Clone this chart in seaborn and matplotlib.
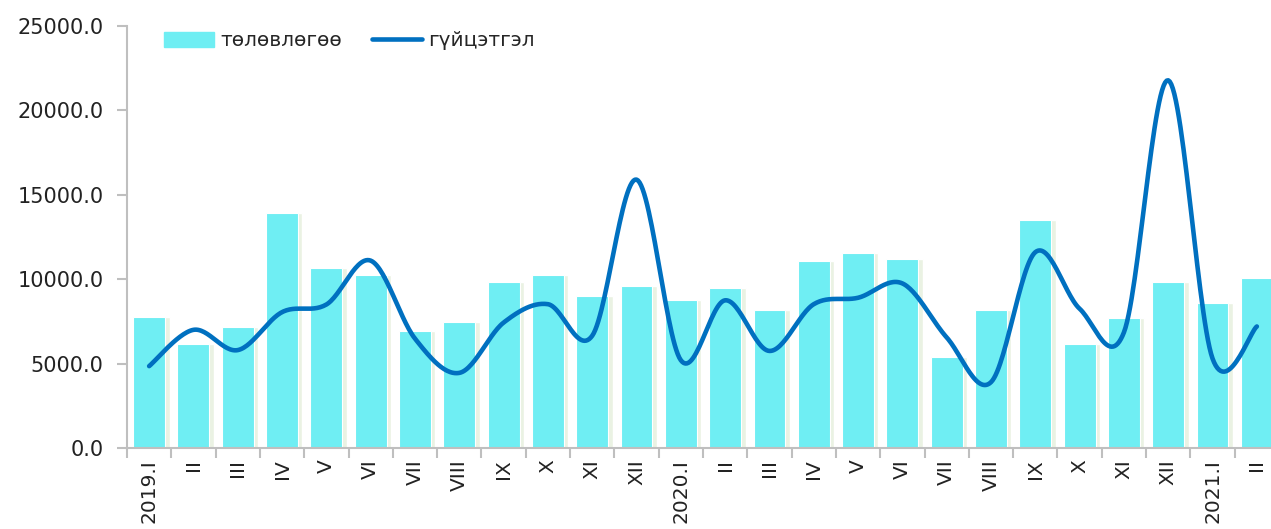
import numpy as np
import pandas as pd
import seaborn as sns
import matplotlib
matplotlib.use("Agg")
import matplotlib.pyplot as plt
from matplotlib.patches import Patch
from matplotlib.lines import Line2D

# data
months = ["2019.I", "II", "III", "IV", "V", "VI", "VII", "VIII", "IX", "X", "XI", "XII",
          "2020.I", "II", "III", "IV", "V", "VI", "VII", "VIII", "IX", "X", "XI", "XII",
          "2021.I", "II"]
plan = [7750, 6170, 7190, 13900, 10650, 10250, 6930, 7490, 9850, 10250, 9030, 9590,
        8770, 9450, 8190, 11090, 11550, 11190, 5400, 8170, 13500, 6140, 7690, 9830,
        8570, 10050]
actual = [4850, 7000, 5800, 8050, 8500, 11100, 6480, 4450, 7430, 8520, 6650, 15900,
          5200, 8750, 5750, 8520, 8900, 9750, 6550, 3900, 11600, 8250, 6850, 21780,
          5300, 7200]

bar_color = "#6FEEF3"
line_color = "#0070C0"

sns.set_style("white")
plt.rcParams["font.family"] = ["DejaVu Sans"]

df = pd.DataFrame({"pos": np.arange(len(months)), "plan": plan, "actual": actual})

fig = plt.figure(figsize=(12.71, 5.29), dpi=100)
ax = fig.add_axes([0.0999, 0.1531, 0.9064, 0.7978])

# faint glow to the right of each bar
ax.bar(df["pos"] + 0.1, df["plan"], width=0.72, color="#EAF2E3", zorder=1)
sns.barplot(data=df, x="pos", y="plan", color=bar_color, width=0.72,
            edgecolor="white", linewidth=0.8, saturation=1, ax=ax, zorder=2)

# smooth line (bezier through points, like a spreadsheet smoothed line)
x = df["pos"].to_numpy(float)
y = df["actual"].to_numpy(float)
xs, ys = [], []
for i in range(len(x) - 1):
    p0 = np.array([x[max(i - 1, 0)], y[max(i - 1, 0)]])
    p1 = np.array([x[i], y[i]])
    p2 = np.array([x[i + 1], y[i + 1]])
    p3 = np.array([x[min(i + 2, len(x) - 1)], y[min(i + 2, len(x) - 1)]])
    c1 = p1 + (p2 - p0) / 6
    c2 = p2 - (p3 - p1) / 6
    t = np.linspace(0, 1, 30)[:, None]
    seg = (1 - t) ** 3 * p1 + 3 * (1 - t) ** 2 * t * c1 + 3 * (1 - t) * t ** 2 * c2 + t ** 3 * p2
    xs.extend(seg[:, 0])
    ys.extend(seg[:, 1])
ax.plot(xs, ys, color=line_color, lw=3.3, solid_capstyle="round", zorder=3)

ax.set_xlim(-0.5, len(months) - 0.5)
ax.set_ylim(0, 25000)
ax.set_yticks(np.arange(0, 25001, 5000))
ax.set_yticklabels([f"{v:.1f}" for v in np.arange(0, 25001, 5000)], fontsize=15, color="#222222")
ax.set_xticks(np.arange(-0.5, len(months), 1.0))
ax.set_xticklabels([])
ax.set_xticks(np.arange(len(months)), minor=True)
ax.set_xticklabels(months, minor=True, rotation=90, fontsize=14.5, color="#222222")
ax.tick_params(axis="x", which="major", length=7, color="#BFBFBF", width=1.5, direction="out", bottom=True)
ax.tick_params(axis="x", which="minor", length=0, pad=8)
ax.tick_params(axis="y", length=7, color="#BFBFBF", width=1.5, direction="out", left=True, pad=10)
ax.set_xlabel("")
ax.set_ylabel("")

for s in ["top", "right"]:
    ax.spines[s].set_visible(False)
for s in ["left", "bottom"]:
    ax.spines[s].set_color("#BFBFBF")
    ax.spines[s].set_linewidth(1.5)

handles = [Patch(color=bar_color), Line2D([0], [0], color=line_color, lw=3.3, solid_capstyle="round")]
ax.legend(handles, ["төлөвлөгөө", "гүйцэтгэл"], loc="upper left", bbox_to_anchor=(0.016, 1.03),
          ncol=2, frameon=False, fontsize=14.5, handlelength=2.5, handleheight=0.8,
          columnspacing=1.5, handletextpad=0.3)

fig.savefig("out.png", dpi=100)
